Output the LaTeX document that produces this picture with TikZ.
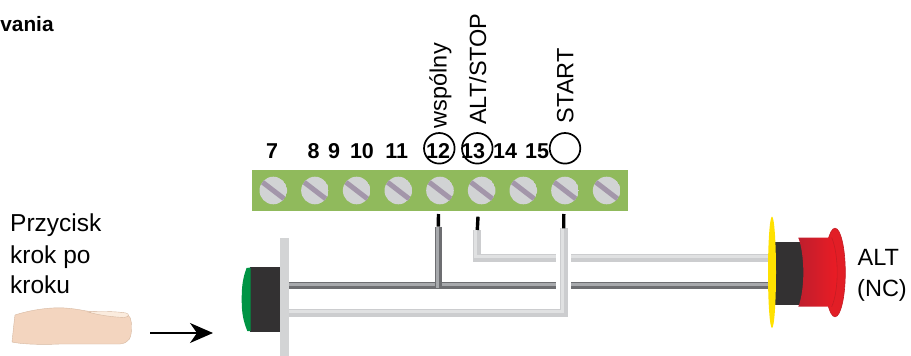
\documentclass[tikz,border=0pt]{standalone}
\usepackage{fontspec}
\setmainfont{Liberation Sans}
\usetikzlibrary{arrows.meta,calc}

\definecolor{stripgreen}{RGB}{144,186,92}
\definecolor{screwgray}{RGB}{209,211,212}
\definecolor{screwslot}{RGB}{163,150,170}
\definecolor{wirelight}{RGB}{204,205,207}
\definecolor{wirelighthi}{RGB}{224,225,226}
\definecolor{wiredark}{RGB}{109,110,113}
\definecolor{wiredarkhi}{RGB}{167,169,172}
\definecolor{platecol}{RGB}{211,212,213}
\definecolor{bodyblack}{RGB}{51,49,50}
\definecolor{capgreen}{RGB}{0,148,68}
\definecolor{skin}{RGB}{243,213,191}
\definecolor{skinedge}{RGB}{214,184,160}
\definecolor{nailcol}{RGB}{251,236,222}
\definecolor{ringyellow}{RGB}{255,225,0}
\definecolor{reddark}{RGB}{190,30,45}
\definecolor{redlight}{RGB}{237,28,36}
\definecolor{redcap}{RGB}{226,30,38}
\definecolor{redrim}{RGB}{196,28,36}

\tikzset{
  numlbl/.style={font=\fontsize{21.5}{25}\selectfont\bfseries, anchor=base, inner sep=0pt},
  sidelbl/.style={font=\fontsize{23.5}{28}\selectfont, inner sep=0pt},
  mark circle/.style={draw=black, line width=1.7pt},
  lightwire/.style={draw=wirelight, line width=8pt},
  lightwirehi/.style={draw=wirelighthi, line width=3pt},
  darkwire/.style={draw=wiredark, line width=7.6pt},
  darkwirehi/.style={draw=wiredarkhi, line width=2.6pt},
  wirecasing/.style={draw=white, line width=15pt},
  stub/.style={draw=black, line width=3.4pt},
}

\begin{document}
\begin{tikzpicture}[x=1pt, y=-1pt]
\useasboundingbox (0,0) rectangle (911,356);

% heading fragment
\node[font=\fontsize{20.8}{25}\selectfont\bfseries, anchor=base west, inner sep=0pt] (head) at (0.2,31) {vania};

% terminal strip with screws
\fill[stripgreen] (252,170) rectangle (628,211);
\foreach \i in {0,...,8} {
  \begin{scope}
    \coordinate (s\i) at ({273.3+41.67*\i},190.5);
    \clip (s\i) circle[radius=13.8];
    \fill[screwgray] (s\i) circle[radius=13.8];
    \draw[screwslot, line width=5pt] ($(s\i)+(-16,-12.3)$) -- ($(s\i)+(16,12.3)$);
  \end{scope}
}

% terminal numbers
\node[numlbl] (t7)  at (272,158) {7};
\node[numlbl] (t8)  at (313.5,158) {8};
\node[numlbl] (t9)  at (334,158) {9};
\node[numlbl] (t10) at (362,158) {10};
\node[numlbl] (t11) at (396.7,158) {11};
\node[numlbl] (t12) at (438,158) {12};
\node[numlbl] (t13) at (473,158) {13};
\node[numlbl] (t14) at (505,158) {14};
\node[numlbl] (t15) at (537,158) {15};

% marked terminals
\draw[mark circle] (439.3,148.3) circle[radius=15.3];
\draw[mark circle] (477.3,148.3) circle[radius=15.3];
\draw[mark circle] (565,148.3) circle[radius=15.3];

% terminal functions
\node[sidelbl, rotate=90, anchor=base west] (lcom)  at (446.5,128.3) {wspólny};
\node[sidelbl, rotate=90, anchor=base west] (lstop) at (486,125) {ALT/STOP};
\node[sidelbl, rotate=90, anchor=base west] (lstart) at (573.3,123.3) {START};

% left caption
\node[sidelbl, font=\fontsize{24.5}{29}\selectfont, anchor=base west] (c1) at (10,231.7) {Przycisk};
\node[sidelbl, font=\fontsize{24.5}{29}\selectfont, anchor=base west] (c2) at (10,263) {krok po};
\node[sidelbl, font=\fontsize{24.5}{29}\selectfont, anchor=base west] (c3) at (10,293) {kroku};

% right caption
\node[sidelbl, anchor=base west] (r1) at (857.5,265) {ALT};
\node[sidelbl, anchor=base west] (r2) at (857,296) {(NC)};

% finger
\fill[skin, draw=skinedge, line width=0.4pt]
  (15,315) .. controls (30,310) and (50,307) .. (65,308)
  .. controls (80,309) and (88,312) .. (96,312) -- (123,313)
  .. controls (131,314) and (131.5,320) .. (131.5,328)
  .. controls (131.5,338) and (129,343) .. (120,344) -- (60,344)
  .. controls (40,345) and (20,344) .. (12,342)
  .. controls (13,333) and (14,322) .. (15,315) -- cycle;
\fill[nailcol, draw=skinedge, line width=0.4pt]
  (88,312) .. controls (100,311) and (118,311.5) .. (126,313)
  .. controls (130,314) and (129,317) .. (124,317.5)
  .. controls (112,317) and (98,315) .. (88,312) -- cycle;

% push arrow
\coordinate (pushS) at (150,333);
\coordinate (pushE) at (213,333);
\draw[line width=1.3pt, -{Stealth[length=23pt, width=20pt, inset=7pt]}] (pushS) -- (pushE);

% step push button
\fill[platecol] (280,237.7) rectangle (289,356);
\fill[bodyblack] (250,266.7) rectangle (280,331.7);
\fill[capgreen] (250.7,267.5) -- (246.5,268) .. controls (243,278) and (241.7,285) .. (241.7,299.2)
  .. controls (241.7,313) and (243,320) .. (247.3,331) -- (250.7,331) -- cycle;

% wires: common (dark) and stop (light upper)
\coordinate (w12) at (438.3,226.7);
\coordinate (w13) at (477.3,230);
\coordinate (w15) at (563.7,228.3);
\draw[darkwire] (289,285.5) -- (768,285.5);
\draw[darkwirehi] (289,284.3) -- (768,284.3);
\draw[darkwire] (w12) -- (438.3,289);
\draw[darkwirehi] (437.6,226.7) -- (437.6,288);
\draw[lightwire] (w13) -- (477.3,257.5) -- (768,257.5);
\draw[lightwirehi] ([xshift=-1.5pt]w13) -- (475.8,256) -- (768,256);

% start wire crossing over with a gap
\draw[wirecasing] (563.7,245) -- (563.7,298);
\draw[lightwire] (w15) -- (563.7,313.3) -- (289,313.3);
\draw[lightwirehi] ([xshift=-1.5pt]w15) -- (562.2,311.8) -- (289,311.8);

% wire ends in the terminals
\draw[stub] (438.5,214) -- (w12);
\draw[stub] (478,216.7) -- (w13);
\draw[stub] (563.8,214) -- (w15);

% emergency stop button
\fill[bodyblack] (775,241.7) rectangle (806,305);
\fill[redcap, draw=redrim, line width=0.6pt] (835,272.5) ellipse[x radius=10.3, y radius=44.3];
\shade[left color=reddark, right color=redlight]
  (798.3,237.7) .. controls (805,255) and (805,290) .. (798.3,306.7)
  -- (831.7,306.7) .. controls (839,290) and (839,255) .. (831.7,237.7) -- cycle;
\draw[redrim, line width=0.6pt] (831.7,237.7) .. controls (839,255) and (839,290) .. (831.7,306.7);
\fill[ringyellow] (772,272.3) ellipse[x radius=4, y radius=55.7];
\end{tikzpicture}
\end{document}
